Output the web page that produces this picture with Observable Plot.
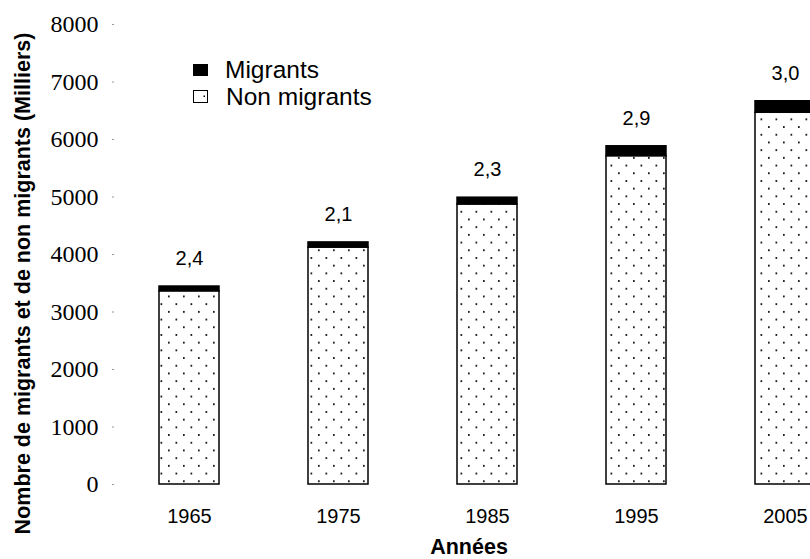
<!DOCTYPE html>
<html>
<head>
<meta charset="utf-8">
<script src="https://cdn.jsdelivr.net/npm/d3@7"></script>
<script src="https://cdn.jsdelivr.net/npm/@observablehq/plot@0.6"></script>
<style>
  html, body { margin: 0; padding: 0; background: white; }
  #chart { position: relative; width: 810px; height: 559px; overflow: hidden; }
  #chart svg { overflow: hidden; }
</style>
</head>
<body>
<div id="chart"></div>
<script>
// Population en milliers, par année de recensement
const years = [1965, 1975, 1985, 1995, 2005];
const nonMigrants = [3360, 4120, 4870, 5710, 6465];
const migrants = [83, 90, 118, 172, 200];
// Part des migrants (%) affichée au-dessus de chaque barre
const shareLabels = ["2,4", "2,1", "2,3", "2,9", "3,0"];
const yTicks = [0, 1000, 2000, 3000, 4000, 5000, 6000, 7000, 8000];

const rows = years.map((year, i) => ({
  year,
  non: nonMigrants[i],
  mig: migrants[i],
  total: nonMigrants[i] + migrants[i],
  label: shareLabels[i]
}));

const sans = "'Liberation Sans', Arial, Helvetica, sans-serif";
const serif = "'Liberation Serif', 'Times New Roman', serif";

// Dotted fill used for the non-migrant segments
const dotPattern = () => {
  const defs = d3.create("svg:defs");
  const p = defs.append("pattern")
    .attr("id", "dots")
    .attr("patternUnits", "userSpaceOnUse")
    .attr("width", 15)
    .attr("height", 15.4);
  p.append("rect").attr("width", 15).attr("height", 15.4).attr("fill", "white");
  p.append("rect").attr("x", 3).attr("y", 3).attr("width", 1.7).attr("height", 1.7).attr("fill", "black");
  p.append("rect").attr("x", 10.5).attr("y", 10.7).attr("width", 1.7).attr("height", 1.7).attr("fill", "black");
  return defs.node();
};

const chart = Plot.plot({
  width: 810,
  height: 559,
  marginTop: 24,
  marginBottom: 75,
  marginLeft: 114,
  marginRight: -49,
  style: { fontFamily: sans, fontSize: "20px", color: "black", background: "white" },
  x: { type: "band", domain: years, paddingInner: 0.6, paddingOuter: 0.3, label: null },
  y: { domain: [0, 8000], label: null },
  marks: [
    dotPattern,
    Plot.axisY({
      ticks: yTicks,
      tickFormat: d3.format("d"),
      tickSize: 2,
      tickPadding: 14,
      stroke: "#999",
      fontFamily: serif,
      fontSize: 24,
      label: null
    }),
    Plot.axisX({ tickSize: 0, tickPadding: 24, fontSize: 20, tickFormat: (d) => String(d), label: null }),
    Plot.barY(rows, { x: "year", y1: 0, y2: "non", fill: "url(#dots)", stroke: "black", strokeWidth: 1.5 }),
    Plot.barY(rows, { x: "year", y1: "non", y2: "total", fill: "black", stroke: "black", strokeWidth: 1.5 }),
    Plot.text(rows, { x: "year", y: "total", text: "label", dy: -28, fontSize: 20, fill: "black" }),
    Plot.text(["Nombre de migrants et de non migrants (Milliers)"], {
      frameAnchor: "left", textAnchor: "middle", lineAnchor: "middle",
      rotate: -90, dx: -91, dy: 29, fontSize: 21.5, fontWeight: "bold", fill: "black"
    }),
    Plot.text(["Années"], {
      frameAnchor: "bottom", textAnchor: "middle", lineAnchor: "middle",
      dx: -18, dy: 63, fontSize: 21.5, fontWeight: "bold", fill: "black"
    })
  ]
});

// Legend in the upper left of the plot area
const svg = d3.select(chart);
const legend = svg.append("g")
  .attr("font-family", sans)
  .attr("font-size", 24.5)
  .attr("text-anchor", "start")
  .attr("fill", "black");
legend.append("rect").attr("x", 193).attr("y", 64).attr("width", 15).attr("height", 12).attr("fill", "black");
legend.append("text").attr("x", 225).attr("y", 78).text("Migrants");
legend.append("rect").attr("x", 193.5).attr("y", 90.5).attr("width", 14).attr("height", 12)
  .attr("fill", "white").attr("stroke", "black").attr("stroke-width", 1);
legend.append("rect").attr("x", 203.5).attr("y", 95.5).attr("width", 1.5).attr("height", 1.5).attr("fill", "black");
legend.append("text").attr("x", 226).attr("y", 105).text("Non migrants");

document.getElementById("chart").appendChild(chart);
</script>
</body>
</html>
